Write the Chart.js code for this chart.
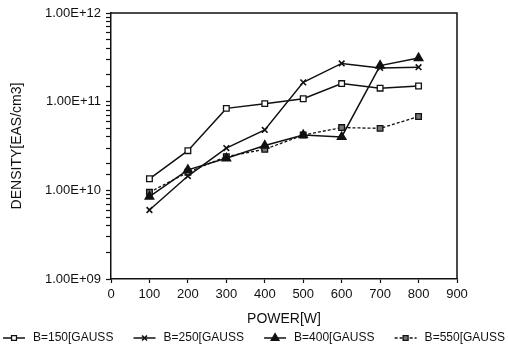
<!DOCTYPE html>
<html>
<head>
<meta charset="utf-8">
<script src="https://cdn.jsdelivr.net/npm/chart.js@4.4.0/dist/chart.umd.min.js"></script>
<style>
  html, body { margin: 0; padding: 0; background: #fff; }
  #wrap { width: 508px; height: 351px; }
</style>
</head>
<body>
<div id="wrap"><canvas id="chart" width="508" height="351"></canvas></div>
<script>
// Power (W) on the x axis
const powers = [100, 200, 300, 400, 500, 600, 700, 800];
const seriesLabels = ['B=150[GAUSS', 'B=250[GAUSS', 'B=400[GAUSS', 'B=550[GAUSS'];

// Density (EAS/cm3)
const b150 = [1.35e10, 2.8e10, 8.4e10, 9.5e10, 1.08e11, 1.6e11, 1.42e11, 1.5e11];
const b250 = [6.0e9, 1.45e10, 3.0e10, 4.8e10, 1.65e11, 2.7e11, 2.4e11, 2.45e11];
const b400 = [8.5e9, 1.7e10, 2.3e10, 3.2e10, 4.2e10, 4.0e10, 2.55e11, 3.1e11];
const b550 = [9.5e9, 1.6e10, 2.4e10, 2.9e10, 4.2e10, 5.1e10, 5.0e10, 6.8e10];

const xMin = 0, xMax = 900, xStep = 100;
const yMin = 1e9, yMax = 1e12;

const FONT = '"Liberation Sans", Arial, sans-serif';
const INK = '#111';

function toPoints(values) {
    return powers.map((p, i) => ({ x: p, y: values[i] }));
}

// 1.00E+12 style labels, only on whole decades
function sciLabel(value) {
    const exp = Math.log10(value);
    if (Math.abs(exp - Math.round(exp)) > 1e-9) return '';
    const e = Math.round(exp);
    return '1.00E' + (e >= 0 ? '+' : '-') + String(Math.abs(e)).padStart(2, '0');
}

/**
 * Box around the plot area (top and right edges)
 */
const frameBox = {
    id: 'frameBox',
    afterDatasetsDraw(chart) {
        const { ctx, chartArea: a } = chart;
        ctx.save();
        ctx.strokeStyle = INK;
        ctx.lineWidth = 1.5;
        ctx.beginPath();
        ctx.moveTo(a.left, a.top);
        ctx.lineTo(a.right, a.top);
        ctx.lineTo(a.right, a.bottom);
        ctx.stroke();
        ctx.restore();
    }
};

/**
 * Legend row along the bottom: line sample with marker, then label
 */
const lineLegend = {
    id: 'lineLegend',
    afterDraw(chart) {
        const { ctx } = chart;
        const sets = chart.data.datasets;
        const lineLen = 22, gap = 8, y = 338;
        ctx.save();
        ctx.font = '12px ' + FONT;
        ctx.textBaseline = 'middle';
        const widths = sets.map(ds => lineLen + gap + ctx.measureText(ds.label).width);
        const total = widths.reduce((s, w) => s + w, 0);
        const spacing = (chart.width - 6 - total) / (sets.length - 1);
        let x = 3;
        sets.forEach((ds, i) => {
            ctx.strokeStyle = ds.borderColor;
            ctx.lineWidth = ds.borderWidth;
            ctx.setLineDash(ds.borderDash || []);
            ctx.beginPath();
            ctx.moveTo(x, y);
            ctx.lineTo(x + lineLen, y);
            ctx.stroke();
            ctx.setLineDash([]);
            ctx.fillStyle = ds.pointBackgroundColor;
            ctx.strokeStyle = ds.pointBorderColor;
            ctx.lineWidth = ds.pointBorderWidth;
            Chart.helpers.drawPoint(ctx, {
                pointStyle: ds.pointStyle,
                rotation: 0,
                radius: ds.pointRadius - 0.5,
                borderWidth: ds.pointBorderWidth
            }, x + lineLen / 2, y);
            ctx.fillStyle = INK;
            ctx.fillText(ds.label, x + lineLen + gap, y);
            x += widths[i] + spacing;
        });
        ctx.restore();
    }
};

const baseSet = {
    borderColor: INK,
    borderWidth: 1.5,
    pointBorderColor: INK,
    pointBorderWidth: 1.3,
    tension: 0
};

new Chart(document.getElementById('chart'), {
    type: 'line',
    data: {
        datasets: [
            Object.assign({}, baseSet, {
                label: seriesLabels[0], data: toPoints(b150),
                pointStyle: 'rect', pointRadius: 4, pointBackgroundColor: '#fff'
            }),
            Object.assign({}, baseSet, {
                label: seriesLabels[1], data: toPoints(b250),
                pointStyle: 'crossRot', pointRadius: 4, pointBackgroundColor: INK, pointBorderWidth: 1.6
            }),
            Object.assign({}, baseSet, {
                label: seriesLabels[2], data: toPoints(b400),
                pointStyle: 'triangle', pointRadius: 5, pointBackgroundColor: INK
            }),
            Object.assign({}, baseSet, {
                label: seriesLabels[3], data: toPoints(b550),
                borderDash: [3, 2], borderWidth: 1.3,
                pointStyle: 'rect', pointRadius: 4, pointBackgroundColor: '#777'
            })
        ]
    },
    options: {
        responsive: false,
        animation: false,
        layout: { padding: { top: 13, right: 51, bottom: 20, left: 0 } },
        plugins: {
            legend: { display: false },
            tooltip: { enabled: false }
        },
        scales: {
            x: {
                type: 'linear',
                min: xMin,
                max: xMax,
                afterFit(scale) { scale.height = 52; },
                ticks: {
                    stepSize: xStep,
                    color: INK,
                    padding: 4,
                    font: { family: FONT, size: 13 }
                },
                grid: { drawOnChartArea: false, tickLength: 4, tickColor: INK, tickWidth: 1.2 },
                border: { color: INK, width: 1.5 },
                title: {
                    display: true,
                    text: 'POWER[W]',
                    color: INK,
                    font: { family: FONT, size: 14 },
                    padding: { top: 0, bottom: 3 }
                }
            },
            y: {
                type: 'logarithmic',
                min: yMin,
                max: yMax,
                afterFit(scale) { scale.width = 111; },
                ticks: {
                    autoSkip: false,
                    color: INK,
                    padding: 5,
                    font: { family: FONT, size: 13 },
                    callback: (v) => sciLabel(v)
                },
                grid: { drawOnChartArea: false, tickLength: 5, tickColor: INK, tickWidth: 1.2 },
                border: { color: INK, width: 1.5 },
                title: {
                    display: true,
                    text: 'DENSITY[EAS/cm3]',
                    color: INK,
                    font: { family: FONT, size: 14 },
                    padding: { top: 9, bottom: 0 }
                }
            }
        }
    },
    plugins: [frameBox, lineLegend]
});
</script>
</body>
</html>
